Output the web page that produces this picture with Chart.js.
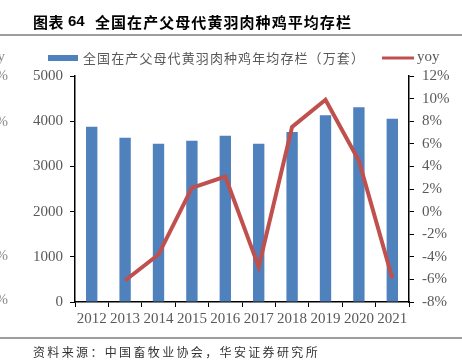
<!DOCTYPE html>
<html>
<head>
<meta charset="utf-8">
<script src="https://cdn.jsdelivr.net/npm/chart.js@4.4.1/dist/chart.umd.min.js"></script>
<style>
  html, body { margin: 0; padding: 0; background: #fff; }
  #wrap { width: 462px; height: 362px; position: relative; }
</style>
</head>
<body>
<div id="wrap"><canvas id="stockChart" width="462" height="362"></canvas></div>
<script>
// data
const years = ['2012', '2013', '2014', '2015', '2016', '2017', '2018', '2019', '2020', '2021'];
const stock = [3875, 3635, 3500, 3570, 3680, 3500, 3760, 4130, 4310, 4055]; // 万套
const yoy = [null, -6.1, -3.8, 2.1, 3.1, -4.9, 7.5, 9.9, 4.5, -5.9];      // %
const leftTicks = [0, 1000, 2000, 3000, 4000, 5000];
const rightTicks = [-8, -6, -4, -2, 0, 2, 4, 6, 8, 10, 12];

const titleText = '全国在产父母代黄羽肉种鸡平均存栏';
const legendBar = '全国在产父母代黄羽肉种鸡年均存栏（万套）';
const sourceText = '资料来源：中国畜牧业协会，华安证券研究所';

const BLUE = '#4F81BD';
const RED = '#C0504D';
const GREY = '#595959';
const SERIF = "'Liberation Serif', 'DejaVu Serif', serif";
const CJK = "'Noto Sans CJK SC', sans-serif";

// draw a string char by char with a fixed step
function spaced(ctx, text, x, y, step) {
  for (let i = 0; i < text.length; i++) {
    ctx.fillText(text[i], x + i * step, y);
  }
}

const decorPlugin = {
  id: 'decor',
  afterDraw(chart) {
    const ctx = chart.ctx;
    ctx.save();

    // title
    ctx.fillStyle = '#000';
    ctx.textBaseline = 'middle';
    ctx.textAlign = 'left';
    ctx.font = 'bold 15px ' + CJK;
    spaced(ctx, '图表', 33, 22, 15.5);
    ctx.font = "bold 15px 'Liberation Sans', Arial, sans-serif";
    ctx.fillText('64', 68, 22);
    ctx.font = 'bold 15px ' + CJK;
    spaced(ctx, titleText, 95, 22, 16.06);

    // rules
    ctx.strokeStyle = '#7f7f7f';
    ctx.lineWidth = 1.5;
    ctx.beginPath();
    ctx.moveTo(0, 35); ctx.lineTo(462, 35);
    ctx.moveTo(0, 338); ctx.lineTo(462, 338);
    ctx.stroke();

    // legend
    ctx.fillStyle = BLUE;
    ctx.fillRect(48, 55, 30, 6);
    ctx.fillStyle = GREY;
    ctx.font = '13px ' + CJK;
    spaced(ctx, legendBar, 83, 58, 14.1);
    ctx.strokeStyle = RED;
    ctx.lineWidth = 3;
    ctx.beginPath();
    ctx.moveTo(382, 58); ctx.lineTo(414, 58);
    ctx.stroke();
    ctx.font = '15px ' + SERIF;
    ctx.fillText('yoy', 417, 57);

    // clipped labels of the neighbouring chart on the left edge
    ctx.fillStyle = '#8a8a8a';
    ctx.textAlign = 'right';
    ctx.fillText('yoy', 5, 57);
    [76, 122, 256, 300].forEach(y => ctx.fillText('%', 8, y));

    // source
    ctx.textAlign = 'left';
    ctx.fillStyle = '#333';
    ctx.font = '12px ' + CJK;
    spaced(ctx, sourceText, 33, 352, 14.35);

    ctx.restore();
  }
};

const axisFont = { family: SERIF, size: 15 };

new Chart(document.getElementById('stockChart'), {
  type: 'bar',
  data: {
    labels: years,
    datasets: [
      {
        type: 'bar',
        label: legendBar,
        data: stock,
        backgroundColor: BLUE,
        borderWidth: 0,
        barPercentage: 0.34,
        categoryPercentage: 1,
        yAxisID: 'y',
        order: 2
      },
      {
        type: 'line',
        label: 'yoy',
        data: yoy,
        borderColor: RED,
        borderWidth: 4,
        pointRadius: 0,
        tension: 0,
        spanGaps: false,
        yAxisID: 'y1',
        order: 1
      }
    ]
  },
  options: {
    responsive: false,
    animation: false,
    layout: { padding: { top: 76, left: 0, right: 0, bottom: 0 } },
    plugins: {
      legend: { display: false },
      tooltip: { enabled: false }
    },
    scales: {
      x: {
        offset: true,
        grid: { display: true, offset: true, drawOnChartArea: false, tickLength: 5, color: '#000', lineWidth: 1 },
        border: { display: true, color: '#000', width: 1.5 },
        ticks: { color: GREY, font: axisFont, padding: 3, maxRotation: 0, autoSkip: false },
        afterFit(s) { s.height = 60; }
      },
      y: {
        position: 'left',
        min: leftTicks[0],
        max: leftTicks[leftTicks.length - 1],
        afterBuildTicks(s) { s.ticks = leftTicks.map(v => ({ value: v })); },
        grid: { display: true, drawOnChartArea: false, tickLength: 5, color: '#000' },
        border: { display: true, color: '#000', width: 1.5 },
        ticks: { color: GREY, font: axisFont, padding: 7, callback: v => String(v) },
        afterFit(s) { s.width = 75; }
      },
      y1: {
        position: 'right',
        min: rightTicks[0],
        max: rightTicks[rightTicks.length - 1],
        afterBuildTicks(s) { s.ticks = rightTicks.map(v => ({ value: v })); },
        grid: { display: true, drawOnChartArea: false, tickLength: 5, color: '#000' },
        border: { display: true, color: '#000', width: 1.5 },
        ticks: { color: GREY, font: axisFont, padding: 8, callback: v => v + '%' },
        afterFit(s) { s.width = 53; }
      }
    }
  },
  plugins: [decorPlugin]
});
</script>
</body>
</html>
